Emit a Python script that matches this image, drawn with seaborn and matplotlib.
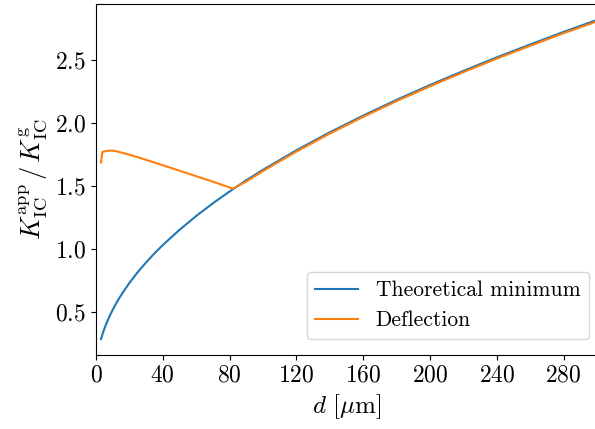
import matplotlib
matplotlib.use("Agg")
import matplotlib.pyplot as plt
import seaborn as sns
import pandas as pd

# Theoretical minimum
d_min = [3, 4, 5, 6, 8, 10, 13, 16, 20, 25, 30, 35, 40, 50, 60, 70, 80, 90, 100,
         120, 140, 160, 180, 200, 220, 240, 260, 280, 300]
k_min = [0.282, 0.325, 0.364, 0.399, 0.460, 0.515, 0.587, 0.651, 0.728, 0.814, 0.891,
         0.963, 1.029, 1.150, 1.260, 1.361, 1.455, 1.544, 1.627, 1.782, 1.925, 2.058,
         2.183, 2.301, 2.413, 2.521, 2.623, 2.723, 2.818]

# Deflection
d_def = [3, 3.8, 5, 7, 9.4, 12, 15, 20, 26, 30, 40, 50, 60, 70, 82, 90, 100, 120, 140,
         160, 180, 200, 220, 240, 260, 280, 300]
k_def = [1.685, 1.768, 1.773, 1.778, 1.780, 1.775, 1.765, 1.747, 1.723, 1.706, 1.663,
         1.620, 1.576, 1.533, 1.477, 1.534, 1.617, 1.772, 1.915, 2.048, 2.173, 2.291,
         2.403, 2.511, 2.613, 2.713, 2.806]

plt.rcParams.update({
    "font.family": "serif",
    "font.serif": ["cmr10"],
    "mathtext.fontset": "cm",
    "axes.formatter.use_mathtext": True,
    "axes.unicode_minus": False,
})

df = pd.concat([
    pd.DataFrame({"d": d_min, "K": k_min, "series": "Theoretical minimum"}),
    pd.DataFrame({"d": d_def, "K": k_def, "series": "Deflection"}),
])

fig = plt.figure(figsize=(5.95, 4.29), dpi=100)
ax = fig.add_axes([96 / 595, 74 / 429, 501 / 595, 351 / 429])
sns.lineplot(data=df, x="d", y="K", hue="series", palette=["#1f77b4", "#ff7f0e"],
             ax=ax, sort=False, estimator=None, linewidth=1.5)

ax.set_xlim(0, 300)
ax.set_xticks([0, 40, 80, 120, 160, 200, 240, 280])
ax.set_yticks([0.5, 1.0, 1.5, 2.0, 2.5])
ax.tick_params(labelsize=17)
ax.set_xlabel(r"$d\ [\mu\mathrm{m}]$", fontsize=18)
ax.set_ylabel(r"$K_{\mathrm{IC}}^{\mathrm{app}}\,/\,K_{\mathrm{IC}}^{\mathrm{g}}$", fontsize=19)
leg = ax.legend(loc="lower right", fontsize=15.5, title=None,
                bbox_to_anchor=(589 / 595, 90 / 429), bbox_transform=fig.transFigure,
                borderaxespad=0)

fig.savefig("out.png", dpi=100)
